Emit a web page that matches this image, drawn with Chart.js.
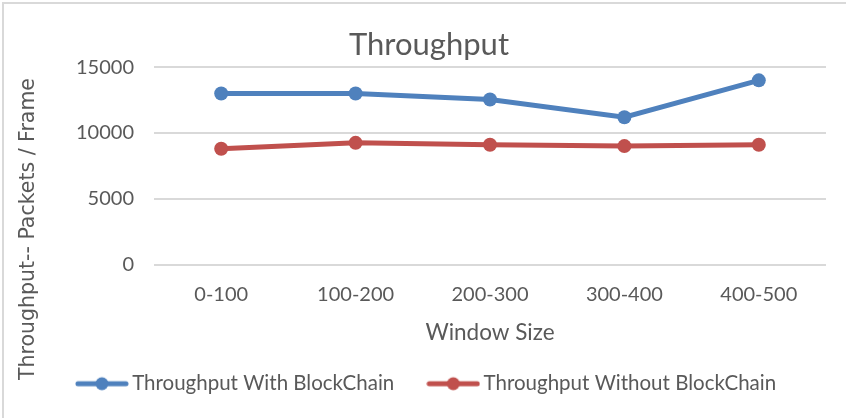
<!DOCTYPE html>
<html>
<head>
<meta charset="utf-8">
<script src="https://cdn.jsdelivr.net/npm/chart.js@4"></script>
<style>
  html, body { margin:0; padding:0; background:#fff; }
  #wrap { position:relative; width:844px; height:416px; box-sizing:border-box; border-top:2px solid #d9d9d9; border-left:2px solid #d9d9d9; margin-left:2px; margin-top:2px; }
  canvas { display:block; }
</style>
</head>
<body>
<div id="wrap"><canvas id="tp"></canvas></div>
<script>
// throughput per window size
const windowSizes = ['0-100', '100-200', '200-300', '300-400', '400-500'];
const withChain = [13000, 13000, 12550, 11200, 14000];
const withoutChain = [8800, 9250, 9100, 9000, 9100];
const yTicks = [0, 5000, 10000, 15000];

const blue = '#4f81bd', red = '#c0504d', grey = '#595959';

// legend swatch: line with a dot in the middle
function swatch(color) {
  const c = document.createElement('canvas');
  c.width = 54; c.height = 16;
  const g = c.getContext('2d');
  g.strokeStyle = color; g.lineWidth = 5; g.lineCap = 'round';
  g.beginPath(); g.moveTo(3, 8); g.lineTo(51, 8); g.stroke();
  g.fillStyle = color;
  g.beginPath(); g.arc(27, 8, 6.5, 0, Math.PI * 2); g.fill();
  return c;
}

const yTitle = {
  id: 'yTitle',
  afterDraw(chart) {
    const ctx = chart.ctx;
    ctx.save();
    ctx.translate(25, 225);
    ctx.rotate(-Math.PI / 2);
    ctx.font = '20.5px "DejaVu Sans"';
    ctx.fillStyle = grey;
    ctx.textAlign = 'center';
    ctx.textBaseline = 'middle';
    ctx.fillText('Throughput-- Packets / Frame', 0, 0);
    ctx.restore();
  }
};

new Chart(document.getElementById('tp'), {
  type: 'line',
  data: {
    labels: windowSizes,
    datasets: [
      { label: 'Throughput With BlockChain', data: withChain, borderColor: blue, backgroundColor: blue },
      { label: 'Throughput Without BlockChain', data: withoutChain, borderColor: red, backgroundColor: red }
    ]
  },
  options: {
    responsive: true,
    maintainAspectRatio: false,
    animation: false,
    layout: { padding: { left: 28, right: 20, top: 16, bottom: 14 } },
    elements: {
      line: { borderWidth: 5, tension: 0 },
      point: { pointStyle: 'circle', radius: 7, hoverRadius: 7, borderWidth: 0 }
    },
    plugins: {
      title: { display: true, text: 'Throughput', color: grey, font: { family: 'Lato', size: 31, weight: 'normal' }, padding: { top: 6, bottom: 4 } },
      legend: {
        position: 'bottom',
        labels: {
          color: grey,
          font: { family: 'Lato', size: 20.5 },
          usePointStyle: true,
          pointStyleWidth: 40,
          boxHeight: 16,
          padding: 39,
          generateLabels(chart) {
            return chart.data.datasets.map((ds, i) => ({
              text: ds.label, fillStyle: ds.borderColor, strokeStyle: ds.borderColor,
              fontColor: grey, pointStyle: swatch(ds.borderColor), lineWidth: 0, datasetIndex: i
            }));
          }
        }
      },
      tooltip: { enabled: false }
    },
    scales: {
      x: {
        offset: true,
        grid: { display: false },
        border: { display: false },
        ticks: { color: grey, font: { family: 'Lato', size: 20 }, padding: 10 },
        title: { display: true, text: 'Window Size', color: grey, font: { family: 'Lato', size: 22.5 }, padding: { top: 3, bottom: -12 } }
      },
      y: {
        min: 0, max: 15000,
        afterBuildTicks(scale) { scale.ticks = yTicks.map(v => ({ value: v })); },
        afterFit(scale) { scale.width = 122; },
        grid: { color: '#d9d9d9', lineWidth: 2, drawTicks: false },
        border: { display: false },
        ticks: { color: grey, font: { family: 'Lato', size: 20 }, padding: 20, callback: v => String(v) }
      }
    }
  },
  plugins: [yTitle]
});
</script>
</body>
</html>
